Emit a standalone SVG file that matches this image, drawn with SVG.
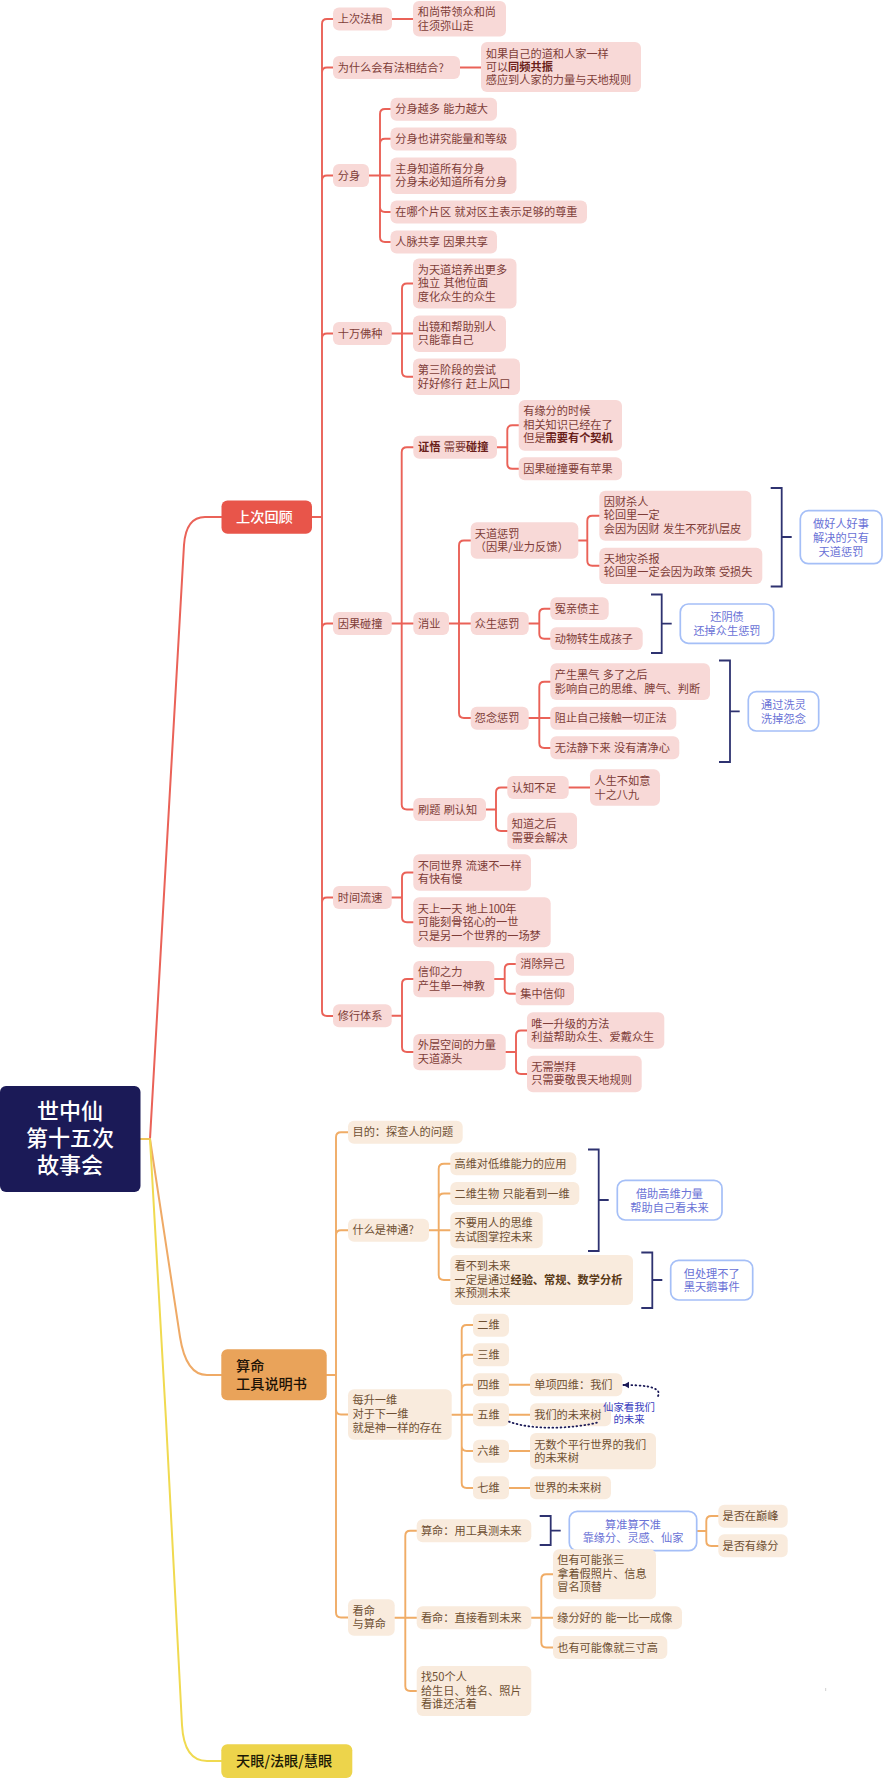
<svg xmlns="http://www.w3.org/2000/svg" width="887" height="1787" viewBox="0 0 887 1787">
<style>
text{font-family:"Noto Sans CJK SC","Noto Sans",sans-serif;font-size:11.2px;word-spacing:.8px}
.r rect{fill:#F8D9D7}.r text{fill:#7E3D38;transform:translateX(-.8px)}
.o rect{fill:#F9EBDD}.o text{fill:#6F5033;transform:translateX(-.8px)}
.b{font-weight:700}
.r .b{fill:#6B1F1A}.o .b{fill:#5A3A18}
.s rect{fill:#fff;stroke:#A5BFF7;stroke-width:1.7}.s text{fill:#6A72D6;text-anchor:middle}
.l{fill:none;stroke-linecap:round}
.lr{stroke:#EA6258;stroke-width:1.9}.lo{stroke:#F0AC66;stroke-width:1.9}
.br{fill:none;stroke:#2E3270;stroke-width:1.8}
.top text{font-size:14.2px;font-weight:500}
</style>
<defs><marker id="ah" markerUnits="userSpaceOnUse" markerWidth="7" markerHeight="8" refX="6" refY="4" orient="auto"><path d="M0,0.5L6,4L0,7.5Z" fill="#1B1A57"/></marker></defs>
<rect width="887" height="1787" fill="#fff"/>
<g id="connectors">
<path class="l" stroke="#EA6258" stroke-width="2" d="M150,1139 L184,545 Q186,517 205,517 H221.5"/>
<path class="l" stroke="#EFAA66" stroke-width="2" d="M150,1139 Q168,1260 180,1337 Q186,1375 207,1375 H221.5"/>
<path class="l" stroke="#F0DA50" stroke-width="2" d="M150,1139 L166,1420 L182,1725 Q184,1761 207,1761 H221.5"/>
<path class="l" stroke="#EFC45A" stroke-width="2" d="M140.5,1139 H150"/>
<path class="l lr" d="M312,517H322M333,19H327Q322,19 322,24V1011Q322,1016 327,1016H333M322,72.5Q322,67.5 327,67.5H333M322,180.5Q322,175.5 327,175.5H333M322,338.5Q322,333.5 327,333.5H333M322,628.5Q322,623.5 327,623.5H333M322,902.5Q322,897.5 327,897.5H333"/>
<path class="l lr" d="M392,19H413M460,67.5H481"/>
<path class="l lr" d="M369,175.5H390.5M390.5,109H385Q380,109 380,114V237Q380,242 385,242H390.5M380,143.7Q380,138.7 385,138.7H390.5M380,207Q380,212 385,212H390.5"/>
<path class="l lr" d="M391.7,333.5H413M413,283.5H407Q402,283.5 402,288.5V371.7Q402,376.7 407,376.7H413"/>
<path class="l lr" d="M391.7,623.5H413.3M413.3,447.2H407Q401.7,447.2 401.7,452.2V804.5Q401.7,809.5 407,809.5H413.3"/>
<path class="l lr" d="M497,447.2H507.3M518.7,425.3H512.3Q507.3,425.3 507.3,430.3V463.8Q507.3,468.8 512.3,468.8H518.7"/>
<path class="l lr" d="M449,623.5H470.7M470.7,540.5H464Q459,540.5 459,545.5V713Q459,718 464,718H470.7"/>
<path class="l lr" d="M578.3,540.5H587.3M599.3,515.7H592.3Q587.3,515.7 587.3,520.7V560.8Q587.3,565.8 592.3,565.8H599.3"/>
<path class="l lr" d="M528.7,623.5H539.3M550.3,608.7H544.3Q539.3,608.7 539.3,613.7V633.7Q539.3,638.7 544.3,638.7H550.3"/>
<path class="l lr" d="M528.7,718H550.3M550.3,681.7H544.3Q539.3,681.7 539.3,686.7V743Q539.3,748 544.3,748H550.3"/>
<path class="l lr" d="M486,809.5H496M507.3,787.5H501Q496,787.5 496,792.5V826Q496,831 501,831H507.3M568.7,787.5H590"/>
<path class="l lr" d="M391.7,897.5H402M413.3,872.5H407Q402,872.5 402,877.5V917.3Q402,922.3 407,922.3H413.3"/>
<path class="l lr" d="M391.7,1015.8H402M413.3,979H407Q402,979 402,984V1047Q402,1052 407,1052H413.3"/>
<path class="l lr" d="M494.3,979H504.7M515.7,964H509.7Q504.7,964 504.7,969V988.8Q504.7,993.8 509.7,993.8H515.7"/>
<path class="l lr" d="M505.7,1052H516M527,1030.5H521Q516,1030.5 516,1035.5V1069Q516,1074 521,1074H527"/>
<path class="l lo" d="M326.7,1375H336M348,1132.2H341Q336,1132.2 336,1137.2V1612.5Q336,1617.5 341,1617.5H348M336,1235.2Q336,1230.2 341,1230.2H348M336,1409.5Q336,1414.5 341,1414.5H348"/>
<path class="l lo" d="M429,1230.2H450.3M450.3,1163.8H444Q438.7,1163.8 438.7,1168.8V1275Q438.7,1280 444,1280H450.3M438.7,1198.5Q438.7,1193.5 444,1193.5H450.3"/>
<path class="l lo" d="M451.7,1414.7H473M473,1325H466.7Q461.7,1325 461.7,1330V1483Q461.7,1488 466.7,1488H473M461.7,1359.8Q461.7,1354.8 466.7,1354.8H473M461.7,1389.8Q461.7,1384.8 466.7,1384.8H473M461.7,1446Q461.7,1451 466.7,1451H473"/>
<path class="l lo" d="M509,1384.8H530M509,1414.8H530M509,1451H530M509,1488H530"/>
<path class="l lo" d="M394.7,1617.7H416.7M416.7,1530.8H410.3Q405.3,1530.8 405.3,1535.8V1686Q405.3,1691 410.3,1691H416.7"/>
<path class="l lo" d="M696.7,1531H706.3M718.3,1516H711.3Q706.3,1516 706.3,1521V1541Q706.3,1546 711.3,1546H718.3"/>
<path class="l lo" d="M531.3,1617.8H553M553,1574.3H546.3Q541.3,1574.3 541.3,1579.3V1642.5Q541.3,1647.5 546.3,1647.5H553"/>
<path class="br" d="M770.7,488H781.7V586.5H770.7M781.7,537H791.7"/>
<path class="br" d="M651,594.5H661.7V653H651M661.7,623.7H671.7"/>
<path class="br" d="M719,660.5H730V762H719M730,711.3H739.7"/>
<path class="br" d="M588,1149.5H598.7V1251H588M598.7,1200H608.7"/>
<path class="br" d="M641.3,1252.5H652.3V1308H641.3M652.3,1280H662.3"/>
<path class="br" d="M539.7,1516H550.7V1545H539.7M550.7,1530.7H560.7"/>
<rect x="825" y="1688" width="1.2" height="3" fill="#d8d8d8"/>
</g>
<g id="root"><rect x="0" y="1086" width="140.5" height="106" rx="6" fill="#1B1A57"/><text fill="#fff" text-anchor="middle" style="font-weight:500;font-size:22px"><tspan x="70" y="1119">世中仙</tspan><tspan x="70" y="1146">第十五次</tspan><tspan x="70" y="1172.5">故事会</tspan></text></g>
<g id="t1" class="top"><rect x="221.5" y="500.5" width="90.5" height="33.3" rx="6" fill="#E8554A"/><text x="236" y="522.3" fill="#fff">上次回顾</text></g>
<g id="t2" class="top"><rect x="221.3" y="1349.3" width="105.4" height="51" rx="6" fill="#E9A35A"/><text x="236" y="1371" fill="#1c1206" class="b">算命</text><text x="236" y="1388.5" fill="#1c1206" class="b">工具说明书</text></g>
<g id="t3" class="top"><rect x="221.3" y="1744.3" width="131" height="33.7" rx="6" fill="#EDD44B"/><text x="236" y="1766.3" fill="#1c1a06" class="b">天眼/法眼/慧眼</text></g>
<g class="r">
<g id="a1"><rect x="333" y="7.5" width="59" height="23" rx="6"/><text x="338.5" y="23.1">上次法相</text></g>
<g id="a2"><rect x="413" y="1" width="93" height="35.5" rx="6"/><text x="418.5" y="16.1">和尚带领众和尚</text><text x="418.5" y="29.5">往须弥山走</text></g>
<g id="a3"><rect x="333" y="56" width="127" height="23" rx="6"/><text x="338.5" y="71.6">为什么会有法相结合?</text></g>
<g id="a4"><rect x="481" y="42" width="160" height="50" rx="6"/><text x="486.5" y="57.5">如果自己的道和人家一样</text><text x="486.5" y="71.1">可以<tspan class="b">同频共振</tspan></text><text x="486.5" y="84.3">感应到人家的力量与天地规则</text></g>
<g id="a5"><rect x="333" y="164" width="36" height="23" rx="6"/><text x="338.5" y="179.6">分身</text></g>
<g id="a6"><rect x="390.5" y="97.7" width="106.5" height="23" rx="6"/><text x="396" y="113.1">分身越多 能力越大</text></g>
<g id="a7"><rect x="390.5" y="127.5" width="126" height="23" rx="6"/><text x="396" y="142.8">分身也讲究能量和等级</text></g>
<g id="a8"><rect x="390.5" y="157.5" width="126" height="36.5" rx="6"/><text x="396" y="173">主身知道所有分身</text><text x="396" y="186">分身未必知道所有分身</text></g>
<g id="a9"><rect x="390.5" y="200.5" width="196.5" height="23" rx="6"/><text x="396" y="216">在哪个片区 就对区主表示足够的尊重</text></g>
<g id="a10"><rect x="390.5" y="230.5" width="106.5" height="23" rx="6"/><text x="396" y="246">人脉共享 因果共享</text></g>
<g id="a11"><rect x="333" y="322" width="58.7" height="23" rx="6"/><text x="338.5" y="337.6">十万佛种</text></g>
<g id="a12"><rect x="413" y="258.5" width="103.5" height="50" rx="6"/><text x="418.5" y="274">为天道培养出更多</text><text x="418.5" y="287.3">独立 其他位面</text><text x="418.5" y="301">度化众生的众生</text></g>
<g id="a13"><rect x="413" y="315.5" width="93" height="36.5" rx="6"/><text x="418.5" y="331">出镜和帮助别人</text><text x="418.5" y="344.3">只能靠自己</text></g>
<g id="a14"><rect x="413" y="358.5" width="107" height="36.5" rx="6"/><text x="418.5" y="374.3">第三阶段的尝试</text><text x="418.5" y="388">好好修行 赶上风口</text></g>
<g id="a15"><rect x="333" y="612" width="58.7" height="23" rx="6"/><text x="338.5" y="627.6">因果碰撞</text></g>
<g id="b1"><rect x="413.3" y="435.7" width="83.7" height="23" rx="6"/><text x="418.8" y="451.3"><tspan class="b">证悟</tspan> 需要<tspan class="b">碰撞</tspan></text></g>
<g id="b2"><rect x="518.7" y="400" width="103.3" height="50.7" rx="6"/><text x="524" y="415.3">有缘分的时候</text><text x="524" y="429">相关知识已经在了</text><text x="524" y="442.3">但是<tspan class="b">需要有个契机</tspan></text></g>
<g id="b3"><rect x="518.7" y="457.3" width="103.3" height="23" rx="6"/><text x="524" y="472.9">因果碰撞要有苹果</text></g>
<g id="b4"><rect x="413.3" y="612" width="35.7" height="23" rx="6"/><text x="418.8" y="627.6">消业</text></g>
<g id="b5"><rect x="470.7" y="522.3" width="107.6" height="36.4" rx="6"/><text x="475.5" y="538.2">天道惩罚</text><text x="475.5" y="551.2">（因果/业力反馈）</text></g>
<g id="b6"><rect x="599.3" y="490.7" width="152" height="50" rx="6"/><text x="604.5" y="506">因财杀人</text><text x="604.5" y="519.2">轮回里一定</text><text x="604.5" y="533">会因为因财 发生不死扒层皮</text></g>
<g id="b7"><rect x="599.3" y="547.7" width="163" height="36.3" rx="6"/><text x="604.5" y="563">天地灾杀报</text><text x="604.5" y="576.3">轮回里一定会因为政策 受损失</text></g>
<g id="b8"><rect x="470.7" y="612" width="58" height="23" rx="6"/><text x="475.5" y="627.6">众生惩罚</text></g>
<g id="b9"><rect x="550.3" y="597.3" width="58.4" height="22.7" rx="6"/><text x="555.5" y="612.8">冤亲债主</text></g>
<g id="b10"><rect x="550.3" y="627.3" width="92.4" height="22.7" rx="6"/><text x="555.5" y="642.8">动物转生成孩子</text></g>
<g id="b11"><rect x="470.7" y="706.7" width="58" height="23" rx="6"/><text x="475.5" y="722.2">怨念惩罚</text></g>
<g id="b12"><rect x="550.3" y="663.3" width="159.7" height="36.7" rx="6"/><text x="555.5" y="679">产生黑气 多了之后</text><text x="555.5" y="692.6">影响自己的思维、脾气、判断</text></g>
<g id="b13"><rect x="550.3" y="706.7" width="126" height="23" rx="6"/><text x="555.5" y="722.2">阻止自己接触一切正法</text></g>
<g id="b14"><rect x="550.3" y="736.3" width="129" height="23" rx="6"/><text x="555.5" y="752">无法静下来 没有清净心</text></g>
<g id="b15"><rect x="413.3" y="798" width="72.7" height="23" rx="6"/><text x="418.8" y="813.6">刷题 刷认知</text></g>
<g id="b16"><rect x="507.3" y="776" width="61.4" height="23" rx="6"/><text x="512.5" y="791.6">认知不足</text></g>
<g id="b17"><rect x="590" y="769.3" width="70" height="36.4" rx="6"/><text x="595.3" y="785">人生不如意</text><text x="595.3" y="798.7">十之八九</text></g>
<g id="b18"><rect x="507.3" y="812.7" width="69.7" height="36.6" rx="6"/><text x="512.5" y="828">知道之后</text><text x="512.5" y="842">需要会解决</text></g>
<g id="c1"><rect x="333" y="886" width="58.7" height="23" rx="6"/><text x="338.5" y="901.6">时间流速</text></g>
<g id="c2"><rect x="413.3" y="854.3" width="117.7" height="36.4" rx="6"/><text x="418.5" y="870">不同世界 流速不一样</text><text x="418.5" y="883">有快有慢</text></g>
<g id="c3"><rect x="413.3" y="897.3" width="137.4" height="50" rx="6"/><text x="418.5" y="913">天上一天 地上<tspan style="letter-spacing:-.5px">100</tspan>年</text><text x="418.5" y="926">可能刻骨铭心的一世</text><text x="418.5" y="940">只是另一个世界的一场梦</text></g>
<g id="c4"><rect x="333" y="1004.3" width="58.7" height="23" rx="6"/><text x="338.5" y="1020">修行体系</text></g>
<g id="c5"><rect x="413.3" y="961" width="81" height="36.3" rx="6"/><text x="418.5" y="976">信仰之力</text><text x="418.5" y="990">产生单一神教</text></g>
<g id="c6"><rect x="515.7" y="952.7" width="58.3" height="23" rx="6"/><text x="521" y="968.3">消除异己</text></g>
<g id="c7"><rect x="515.7" y="982.3" width="58.3" height="23" rx="6"/><text x="521" y="998">集中信仰</text></g>
<g id="c8"><rect x="413.3" y="1034" width="92.4" height="36.3" rx="6"/><text x="418.5" y="1049">外层空间的力量</text><text x="418.5" y="1063">天道源头</text></g>
<g id="c9"><rect x="527" y="1012.3" width="137.3" height="36.4" rx="6"/><text x="532" y="1027.7">唯一升级的方法</text><text x="532" y="1041">利益帮助众生、爱戴众生</text></g>
<g id="c10"><rect x="527" y="1055.7" width="114.7" height="36.6" rx="6"/><text x="532" y="1070.7">无需崇拜</text><text x="532" y="1084">只需要敬畏天地规则</text></g>
</g>
<g class="s">
<g id="s1"><rect x="800.3" y="510.7" width="81.7" height="53" rx="8"/><text x="841" y="527.9">做好人好事</text><text x="841" y="542.2">解决的只有</text><text x="841" y="556.2">天道惩罚</text></g>
<g id="s2"><rect x="680.3" y="604" width="93.4" height="39.3" rx="8"/><text x="727" y="621.2">还阴债</text><text x="727" y="635.2">还掉众生惩罚</text></g>
<g id="s3"><rect x="748.3" y="691.7" width="70.4" height="39.3" rx="8"/><text x="783.5" y="709.2">通过洗灵</text><text x="783.5" y="722.5">洗掉怨念</text></g>
<g id="s4"><rect x="617.3" y="1180.3" width="104.7" height="39.7" rx="8"/><text x="669.5" y="1198.2">借助高维力量</text><text x="669.5" y="1212.2">帮助自己看未来</text></g>
<g id="s5"><rect x="670.7" y="1260.3" width="82" height="39.7" rx="8"/><text x="711.7" y="1278.2">但处理不了</text><text x="711.7" y="1291.2">黑天鹅事件</text></g>
<g id="s6"><rect x="569.3" y="1511.3" width="127.4" height="39.4" rx="8"/><text x="633" y="1529.2">算准算不准</text><text x="633" y="1542.2">靠缘分、灵感、仙家</text></g>
</g>
<g class="o">
<g id="d1"><rect x="348" y="1120.7" width="114.7" height="23" rx="6"/><text x="353.3" y="1136.2">目的：探查人的问题</text></g>
<g id="d2"><rect x="348" y="1218.7" width="81" height="23" rx="6"/><text x="353.3" y="1234.2">什么是神通?</text></g>
<g id="d3"><rect x="450.3" y="1152.3" width="126" height="23" rx="6"/><text x="455.3" y="1168">高维对低维能力的应用</text></g>
<g id="d4"><rect x="450.3" y="1182" width="129" height="23" rx="6"/><text x="455.3" y="1197.6">二维生物 只能看到一维</text></g>
<g id="d5"><rect x="450.3" y="1212" width="92.4" height="36.3" rx="6"/><text x="455.3" y="1227.2">不要用人的思维</text><text x="455.3" y="1241.2">去试图掌控未来</text></g>
<g id="d6"><rect x="450.3" y="1255" width="182.7" height="50" rx="6"/><text x="455.3" y="1270.2">看不到未来</text><text x="455.3" y="1284.2">一定是通过<tspan class="b">经验、常规、数学分析</tspan></text><text x="455.3" y="1297.2">来预测未来</text></g>
<g id="d7"><rect x="348" y="1389.3" width="103.7" height="50.4" rx="6"/><text x="353.3" y="1404.2">每升一维</text><text x="353.3" y="1418.2">对于下一维</text><text x="353.3" y="1432">就是神一样的存在</text></g>
<g id="d8"><rect x="473" y="1313.7" width="36" height="23" rx="6"/><text x="478" y="1329.3">二维</text></g>
<g id="d9"><rect x="473" y="1343.3" width="36" height="23" rx="6"/><text x="478" y="1358.9">三维</text></g>
<g id="d10"><rect x="473" y="1373.3" width="36" height="23" rx="6"/><text x="478" y="1388.9">四维</text></g>
<g id="d11"><rect x="473" y="1403.3" width="36" height="23" rx="6"/><text x="478" y="1418.9">五维</text></g>
<g id="d12"><rect x="473" y="1439.7" width="36" height="23" rx="6"/><text x="478" y="1455.3">六维</text></g>
<g id="d13"><rect x="473" y="1476.3" width="36" height="23" rx="6"/><text x="478" y="1491.9">七维</text></g>
<g id="d14"><rect x="530" y="1373.3" width="92.3" height="23" rx="6"/><text x="535" y="1388.9">单项四维：我们</text></g>
<g id="d15"><rect x="530" y="1403.3" width="81" height="23" rx="6"/><text x="535" y="1418.9">我们的未来树</text></g>
<g id="d16"><rect x="530" y="1433" width="126" height="36.3" rx="6"/><text x="535" y="1448.7">无数个平行世界的我们</text><text x="535" y="1462">的未来树</text></g>
<g id="d17"><rect x="530" y="1476.3" width="81" height="23" rx="6"/><text x="535" y="1491.9">世界的未来树</text></g>
<g id="d18"><rect x="348" y="1599.3" width="46.7" height="36.4" rx="6"/><text x="353.3" y="1614.8">看命</text><text x="353.3" y="1628">与算命</text></g>
<g id="d19"><rect x="416.7" y="1519.3" width="114.6" height="23" rx="6"/><text x="421.7" y="1534.9">算命：用工具测未来</text></g>
<g id="d20"><rect x="416.7" y="1606.3" width="114.6" height="23" rx="6"/><text x="421.7" y="1621.9">看命：直接看到未来</text></g>
<g id="d21"><rect x="416.7" y="1666" width="114.6" height="50" rx="6"/><text x="421.7" y="1681.2">找50个人</text><text x="421.7" y="1694.5">给生日、姓名、照片</text><text x="421.7" y="1708">看谁还活着</text></g>
<g id="d22"><rect x="718.3" y="1504.7" width="69.4" height="23" rx="6"/><text x="723.3" y="1520.3">是否在巅峰</text></g>
<g id="d23"><rect x="718.3" y="1534.3" width="69.4" height="23" rx="6"/><text x="723.3" y="1550">是否有缘分</text></g>
<g id="d24"><rect x="553" y="1549.3" width="103" height="50" rx="6"/><text x="558" y="1564">但有可能张三</text><text x="558" y="1578">拿着假照片、信息</text><text x="558" y="1591">冒名顶替</text></g>
<g id="d25"><rect x="553" y="1606.3" width="129" height="23" rx="6"/><text x="558" y="1621.9">缘分好的 能一比一成像</text></g>
<g id="d26"><rect x="553" y="1636" width="114.3" height="23" rx="6"/><text x="558" y="1651.6">也有可能像就三寸高</text></g>
</g>
<g id="rel">
<path class="l" stroke="#1B1A57" stroke-width="1.8" stroke-dasharray="0.8 3.2" d="M509,1421.7 C535,1431 575,1428 597,1422.7"/>
<path class="l" stroke="#1B1A57" stroke-width="1.8" stroke-dasharray="0.8 3.2" marker-end="url(#ah)" d="M658,1396 C663,1386 640,1385 623.3,1385"/>
<text x="629" y="1410.5" text-anchor="middle" fill="#3A3FC0" style="font-size:10.4px">仙家看我们</text>
<text x="629" y="1422.8" text-anchor="middle" fill="#3A3FC0" style="font-size:10.4px">的未来</text>
</g>
</svg>
